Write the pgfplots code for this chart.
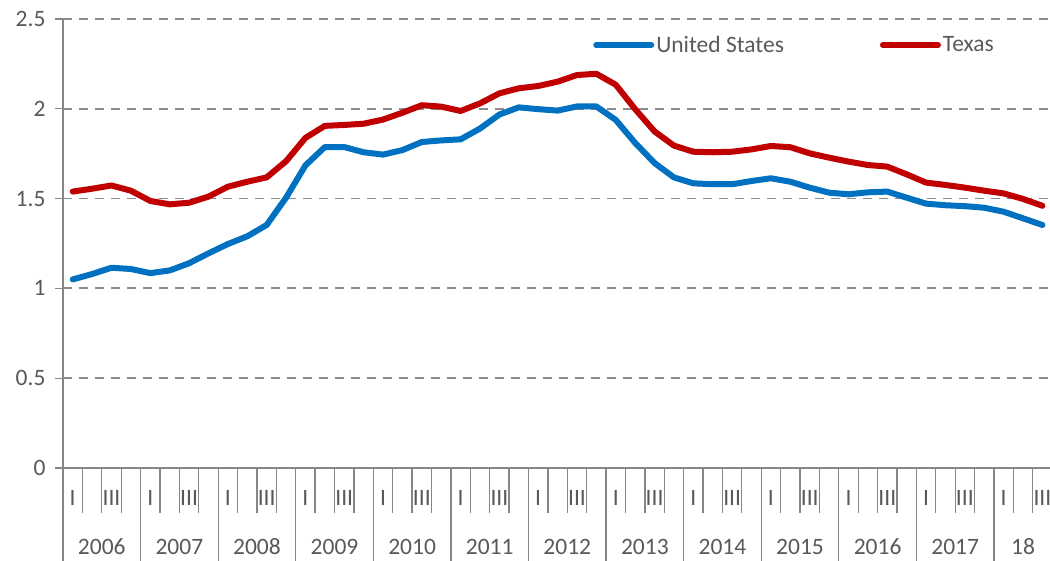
\documentclass[border=0pt]{standalone}
\usepackage{pgfplots}
\usepackage{pgfplotstable}
\pgfplotsset{compat=1.18}
\usepackage{fontspec}
\setmainfont{Carlito}
\definecolor{usblue}{HTML}{0070C0}
\definecolor{txred}{HTML}{C00000}
\definecolor{txtgray}{HTML}{595959}
\definecolor{axgray}{HTML}{868686}
\definecolor{gridgray}{HTML}{8C8C8C}
\newcommand{\chartfont}{\fontsize{23.5bp}{28bp}\selectfont}

\pgfplotstableread{
q us tx
0 1.050 1.539
1 1.080 1.555
2 1.115 1.573
3 1.108 1.544
4 1.085 1.487
5 1.100 1.468
6 1.140 1.477
7 1.195 1.511
8 1.247 1.566
9 1.290 1.594
10 1.353 1.618
11 1.505 1.708
12 1.685 1.838
13 1.787 1.905
14 1.787 1.910
15 1.758 1.917
16 1.745 1.940
17 1.770 1.978
18 1.815 2.020
19 1.824 2.012
20 1.830 1.988
21 1.890 2.030
22 1.968 2.086
23 2.008 2.114
24 1.998 2.127
25 1.990 2.151
26 2.013 2.188
27 2.013 2.195
28 1.938 2.134
29 1.810 1.998
30 1.698 1.874
31 1.618 1.795
32 1.585 1.761
33 1.580 1.758
34 1.580 1.761
35 1.598 1.774
36 1.613 1.793
37 1.594 1.786
38 1.561 1.752
39 1.533 1.728
40 1.524 1.706
41 1.535 1.687
42 1.539 1.678
43 1.505 1.635
44 1.472 1.589
45 1.463 1.576
46 1.458 1.561
47 1.449 1.544
48 1.427 1.529
49 1.390 1.498
50 1.353 1.460
}\datatable

\begin{document}
\begin{tikzpicture}
\useasboundingbox (-63bp,-93bp) rectangle (987bp,468bp);
\begin{axis}[
  at={(0,0)}, anchor=south west,
  scale only axis, width=987bp, height=449bp,
  xmin=-0.5, xmax=50.39, ymin=0, ymax=2.5,
  clip=false,
  axis x line*=bottom, axis y line*=left,
  axis line style={axgray, line width=1.3bp},
  tick align=outside,
  major tick length=8bp,
  minor tick length=45bp,
  every tick/.style={axgray, line width=1.3bp},
  ytick={0,0.5,1,1.5,2,2.5},
  yticklabels={0,0.5,1,1.5,2,2.5},
  ymajorgrids,
  major grid style={gridgray, line width=1.8bp, dash pattern=on 9bp off 7bp},
  xtick={-0.5,3.5,...,47.5},
  xticklabels={},
  xtick style={/pgfplots/major tick length=93bp},
  minor xtick={0.5,1.5,2.5,4.5,5.5,6.5,8.5,9.5,10.5,12.5,13.5,14.5,16.5,17.5,18.5,20.5,21.5,22.5,24.5,25.5,26.5,28.5,29.5,30.5,32.5,33.5,34.5,36.5,37.5,38.5,40.5,41.5,42.5,44.5,45.5,46.5,48.5,49.5},
  extra x ticks={1.5,5.5,9.5,13.5,17.5,21.5,25.5,29.5,33.5,37.5,41.5,45.5,49},
  extra x tick labels={2006,2007,2008,2009,2010,2011,2012,2013,2014,2015,2016,2017,18},
  extra x tick style={xtick style={draw=none}, xticklabel style={anchor=center, yshift=-71bp}},
  every tick label/.append style={font=\chartfont, text=txtgray},
  /pgf/number format/assume math mode=true,
  yticklabel style={anchor=east, xshift=-6bp},
  legend style={at={(0.534,0.942)}, anchor=west, draw=none, fill=none,
    font=\chartfont, text=txtgray, legend columns=2,
    nodes={inner sep=2bp},
    /tikz/every even column/.append style={column sep=94bp}},
  legend image code/.code={\draw[#1, line cap=round] (0bp,0bp) -- (55bp,0bp);},
]
\addplot[usblue, line width=6bp, line join=round, line cap=round] table[x=q, y=us] {\datatable};
\addlegendentry{United States}
\addplot[txred, line width=6bp, line join=round, line cap=round] table[x=q, y=tx] {\datatable};
\addlegendentry{Texas}
\pgfplotsinvokeforeach{0,4,...,48}{
  \node[font=\chartfont, text=txtgray] at (axis cs:#1,0) [yshift=-30bp] {I};
}
\pgfplotsinvokeforeach{2,6,...,50}{
  \node[font=\chartfont, text=txtgray] at (axis cs:#1,0) [yshift=-30bp] {III};
}
\end{axis}
\end{tikzpicture}
\end{document}
